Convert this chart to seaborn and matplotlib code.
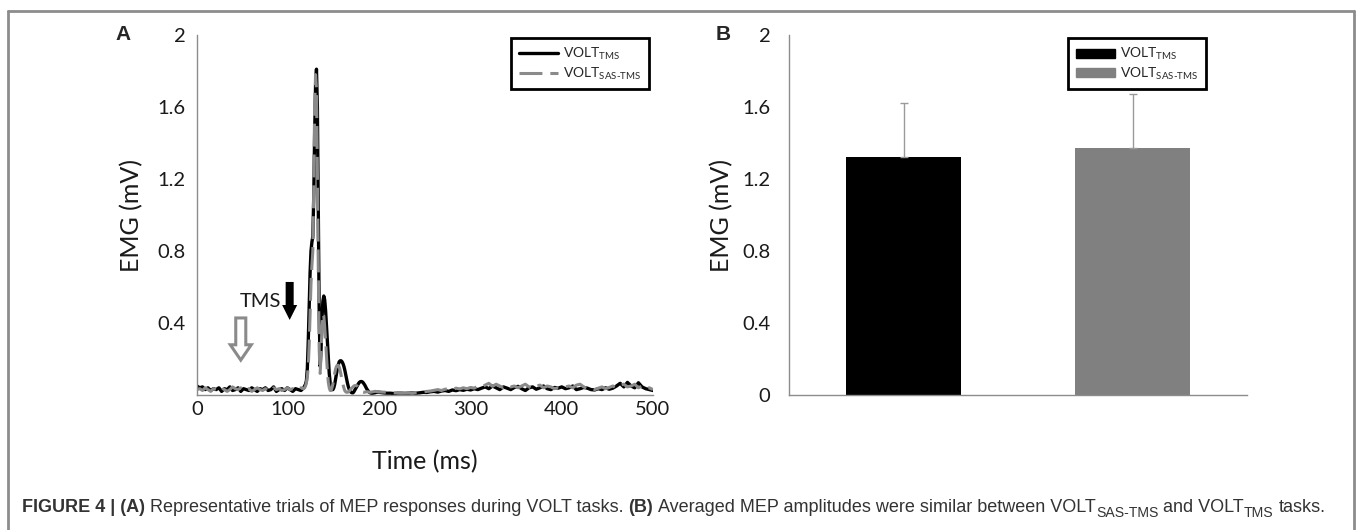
import matplotlib
matplotlib.use('Agg')
import matplotlib.pyplot as plt
from matplotlib.lines import Line2D
from matplotlib.patches import FancyArrow, Rectangle
from matplotlib import font_manager
import seaborn as sns

sns.set_style('white')
plt.rcParams['font.family'] = ['Lato', 'DejaVu Sans']
plt.rcParams['mathtext.fontset'] = 'custom'
plt.rcParams['mathtext.rm'] = 'Lato'
plt.rcParams['mathtext.it'] = 'Lato:italic'
plt.rcParams['mathtext.bf'] = 'Lato:bold'

# ---- panel A: representative MEP traces (ms, mV) ----
t_pre = list(range(0, 118, 3))
t_mid = list(range(118, 200))
t_post = list(range(200, 501, 4))
time_ms = t_pre + t_mid + t_post

tms_pre = [0.05, 0.04, 0.045, 0.03, 0.04, 0.025, 0.035, 0.03, 0.04, 0.02,
           0.035, 0.03, 0.045, 0.025, 0.03, 0.04, 0.02, 0.035, 0.03, 0.025,
           0.04, 0.03, 0.02, 0.035, 0.03, 0.04, 0.025, 0.03, 0.045, 0.02,
           0.03, 0.035, 0.025, 0.04, 0.03, 0.02, 0.035, 0.03, 0.025, 0.04]
tms_mid = [0.05, 0.06, 0.08, 0.15, 0.3, 0.5, 0.68, 0.8, 0.85, 0.88,
           1.1, 1.45, 1.72, 1.81, 1.6, 1.05, 0.45, 0.16, 0.25, 0.42,
           0.52, 0.55, 0.53, 0.47, 0.38, 0.28, 0.19, 0.12, 0.07, 0.04,
           0.03, 0.03, 0.04, 0.06, 0.09, 0.12, 0.15, 0.17, 0.185, 0.19,
           0.19, 0.185, 0.175, 0.16, 0.14, 0.115, 0.09, 0.065, 0.045, 0.03,
           0.02, 0.015, 0.012, 0.012, 0.018, 0.027, 0.035, 0.045, 0.055, 0.063,
           0.07, 0.074, 0.075, 0.074, 0.07, 0.063, 0.055, 0.045, 0.035, 0.027,
           0.02, 0.015, 0.012, 0.01, 0.01, 0.01, 0.012, 0.012, 0.014, 0.015,
           0.015, 0.016]
tms_post = [0.015, 0.012, 0.01, 0.01, 0.008, 0.01, 0.01, 0.009, 0.01, 0.012, 0.01, 0.012, 0.015,
            0.014, 0.018, 0.02, 0.016, 0.022, 0.025, 0.02, 0.028, 0.024, 0.03, 0.026, 0.032,
            0.028, 0.035, 0.03, 0.038, 0.045, 0.035, 0.05, 0.04, 0.03, 0.045, 0.038, 0.03, 0.042,
            0.048, 0.035, 0.025, 0.04, 0.045, 0.032, 0.04, 0.05, 0.035, 0.03, 0.042, 0.038,
            0.045, 0.035, 0.04, 0.05, 0.03, 0.035, 0.042, 0.038, 0.03, 0.028, 0.035, 0.03, 0.04,
            0.032, 0.038, 0.05, 0.065, 0.045, 0.07, 0.05, 0.04, 0.068, 0.045, 0.035, 0.03, 0.025]
volt_tms = tms_pre + tms_mid + tms_post

sas_pre = [0.03, 0.035, 0.025, 0.04, 0.03, 0.02, 0.035, 0.03, 0.025, 0.04,
           0.03, 0.02, 0.03, 0.045, 0.035, 0.03, 0.04, 0.025, 0.03, 0.035,
           0.02, 0.03, 0.04, 0.03, 0.025, 0.035, 0.03, 0.02, 0.04, 0.03,
           0.035, 0.025, 0.03, 0.04, 0.03, 0.035, 0.025, 0.03, 0.04, 0.035]
sas_mid = [0.04, 0.05, 0.07, 0.1, 0.16, 0.28, 0.45, 0.62, 0.72, 0.8,
           1.15, 1.6, 1.78, 1.7, 1.25, 0.7, 0.25, 0.12, 0.22, 0.38,
           0.45, 0.44, 0.38, 0.3, 0.21, 0.13, 0.07, 0.04, 0.025, 0.025,
           0.04, 0.06, 0.09, 0.12, 0.145, 0.16, 0.165, 0.165, 0.155, 0.135,
           0.11, 0.085, 0.06, 0.04, 0.025, 0.018, 0.015, 0.015, 0.018, 0.022,
           0.028, 0.035, 0.04, 0.045, 0.05, 0.052, 0.053, 0.052, 0.048, 0.042,
           0.035, 0.028, 0.022, 0.018, 0.016, 0.015, 0.016, 0.017, 0.018, 0.018,
           0.017, 0.016, 0.015, 0.016, 0.017, 0.018, 0.019, 0.02, 0.02, 0.019,
           0.018, 0.017]
sas_post = [0.017, 0.016, 0.015, 0.014, 0.012, 0.011, 0.01, 0.01, 0.011, 0.012, 0.013, 0.015, 0.017,
            0.02, 0.022, 0.026, 0.03, 0.025, 0.032, 0.036, 0.03, 0.038, 0.034, 0.04, 0.035,
            0.042, 0.038, 0.05, 0.045, 0.055, 0.065, 0.048, 0.06, 0.05, 0.04, 0.055, 0.045, 0.05,
            0.04, 0.05, 0.06, 0.045, 0.035, 0.048, 0.055, 0.04, 0.05, 0.045, 0.035, 0.04,
            0.038, 0.045, 0.05, 0.04, 0.055, 0.06, 0.045, 0.035, 0.04, 0.03, 0.038, 0.045, 0.035,
            0.042, 0.05, 0.04, 0.055, 0.06, 0.045, 0.05, 0.06, 0.04, 0.05, 0.035, 0.04, 0.03]
volt_sas = sas_pre + sas_mid + sas_post

# ---- panel B: averaged MEP amplitude ----
conditions = ['VOLT_TMS', 'VOLT_SAS-TMS']
mean_emg = [1.32, 1.37]
err_emg = [0.30, 0.30]
bar_colors = ['#000000', '#808080']

lab_tms = r'VOLT$_{\mathregular{TMS}}$'
lab_sas = r'VOLT$_{\text{SAS-TMS}}$'

W, H = 1357, 530
fig = plt.figure(figsize=(W / 100, H / 100), dpi=100)
axA = fig.add_axes([197 / W, 1 - 395 / H, 456 / W, 360 / H])
axB = fig.add_axes([789 / W, 1 - 395 / H, 458 / W, 360 / H])

spine_c = '#8c8c8c'
txt_c = '#1a1a1a'
tick_fs = 14.5
lab_fs = 18

sns.lineplot(x=time_ms, y=volt_tms, color='black', lw=2.4, ax=axA)
sns.lineplot(x=time_ms, y=volt_sas, color='#8a8a8a', lw=2.2, ax=axA)
axA.lines[-1].set_dashes([7.5, 2.6])

axA.set_xlim(0, 500)
axA.set_ylim(0, 2)
axA.set_xticks([0, 100, 200, 300, 400, 500])
axA.set_yticks([0.4, 0.8, 1.2, 1.6, 2.0])
axA.set_yticklabels(['0.4', '0.8', '1.2', '1.6', '2'])
axA.tick_params(axis='y', direction='in', length=4, color=spine_c, labelsize=tick_fs,
                labelcolor=txt_c, pad=8)
axA.tick_params(axis='x', direction='in', length=3, color=spine_c, labelsize=tick_fs,
                labelcolor=txt_c, pad=4)
axA.set_xlabel('Time (ms)', fontsize=lab_fs, color=txt_c, va='center')
axA.xaxis.set_label_coords(0.5, -0.186)
axA.set_ylabel('EMG (mV)', fontsize=lab_fs, color=txt_c, va='center')
axA.yaxis.set_label_coords(-0.143, 0.5)

# stimulus markers
axA.add_patch(FancyArrow(101.6, 0.628, 0, -0.211, width=8.8, head_width=16.5,
                         head_length=0.083, length_includes_head=True,
                         color='black', lw=0))
axA.add_patch(FancyArrow(48, 0.428, 0, -0.234, width=11, head_width=23,
                         head_length=0.085, length_includes_head=True,
                         facecolor='white', edgecolor='#8a8a8a', lw=2.2))
axA.text(70, 0.52, 'TMS', fontsize=tick_fs, color=txt_c, ha='center', va='center')

leg_kw = dict(loc='upper left', bbox_transform=fig.transFigure, fontsize=10,
              handlelength=2.8, handletextpad=0.4, labelspacing=0.25, borderpad=0.55,
              borderaxespad=0, fancybox=False, framealpha=1)

legA = [Line2D([], [], color='black', lw=2.4),
        Line2D([], [], color='#8a8a8a', lw=2.2, dashes=[7.5, 2.6])]
lgA = axA.legend(legA, [lab_tms, lab_sas], bbox_to_anchor=(511 / W, 1 - 38.5 / H), **leg_kw)
lgA.get_frame().set_edgecolor('black')
lgA.get_frame().set_linewidth(2)

sns.barplot(x=conditions, y=mean_emg, hue=conditions, palette=bar_colors, width=0.5,
            saturation=1, legend=False, ax=axB, linewidth=0)
axB.errorbar([0, 1], mean_emg, yerr=[[0, 0], err_emg], fmt='none', ecolor='#9a9a9a',
             elinewidth=1, capsize=3, capthick=1)
axB.set_xlim(-0.5, 1.5)
axB.set_ylim(0, 2)
axB.set_xticks([])
axB.set_xlabel('')
axB.set_yticks([0, 0.4, 0.8, 1.2, 1.6, 2.0])
axB.set_yticklabels(['0', '0.4', '0.8', '1.2', '1.6', '2'])
axB.tick_params(axis='y', direction='in', length=5, color=spine_c, labelsize=tick_fs,
                labelcolor=txt_c, pad=13.5)
axB.set_ylabel('EMG (mV)', fontsize=lab_fs, color=txt_c, va='center')
axB.yaxis.set_label_coords(-0.146, 0.5)

legB = [Rectangle((0, 0), 1, 1, color=c) for c in bar_colors]
lgB = axB.legend(legB, [lab_tms, lab_sas], bbox_to_anchor=(1068 / W, 1 - 38.5 / H),
                 handleheight=0.6, **leg_kw)
lgB.get_frame().set_edgecolor('black')
lgB.get_frame().set_linewidth(2)

for ax in (axA, axB):
    for side in ('top', 'right'):
        ax.spines[side].set_visible(False)
    for side in ('left', 'bottom'):
        ax.spines[side].set_color(spine_c)
        ax.spines[side].set_linewidth(1)

fig.text(123 / W, 1 - 35 / H, 'A', fontsize=15, fontweight='bold', ha='center', va='center',
         family=['Liberation Sans', 'DejaVu Sans'])
fig.text(723 / W, 1 - 35 / H, 'B', fontsize=15, fontweight='bold', ha='center', va='center',
         family=['Liberation Sans', 'DejaVu Sans'])

# frame around the figure
for xs, ys in [([8, 8], [530, 11]), ([8, 1354], [11, 11]), ([1354, 1354], [11, 530])]:
    fig.add_artist(Line2D([x / W for x in xs], [1 - y / H for y in ys], color=spine_c,
                          lw=2, transform=fig.transFigure))

# caption, drawn piece by piece so that bold parts and subscripts line up
names = {f.name for f in font_manager.fontManager.ttflist}
cap_font = 'Liberation Sans Narrow' if 'Liberation Sans Narrow' in names else 'Liberation Sans'
pieces = [('FIGURE 4 | (A)', 'bold', False, True),
          ('Representative trials of MEP responses during VOLT tasks.', 'normal', False, True),
          ('(B)', 'bold', False, True),
          ('Averaged MEP amplitudes were similar between VOLT', 'normal', False, False),
          ('SAS-TMS', 'normal', True, True),
          ('and VOLT', 'normal', False, False),
          ('TMS', 'normal', True, True),
          ('tasks.', 'normal', False, False)]
cap_c = '#333333'
renderer = fig.canvas.get_renderer()


def draw_caption(size, x0, y0):
    drawn = []
    x = x0
    sp = fig.text(0, 0, 'a a', fontsize=size, family=cap_font)
    sp2 = fig.text(0, 0, 'aa', fontsize=size, family=cap_font)
    space = (sp.get_window_extent(renderer).width - sp2.get_window_extent(renderer).width)
    sp.remove()
    sp2.remove()
    for s, wt, sub, gap in pieces:
        fs = size * 0.78 if sub else size
        y = y0 - (size * 0.3 / 72 * 100) / H if sub else y0
        t = fig.text(x / W, y, s, fontsize=fs, fontweight=wt, family=cap_font, color=cap_c,
                     ha='left', va='center')
        drawn.append(t)
        x += t.get_window_extent(renderer).width
        if gap:
            x += space
    return drawn, x - x0


texts, width = draw_caption(10, 22, 1 - 508 / H)
for t in texts:
    t.remove()
texts, width = draw_caption(10 * 1306 / width, 22, 1 - 508 / H)

fig.savefig('out.png', dpi=100)
